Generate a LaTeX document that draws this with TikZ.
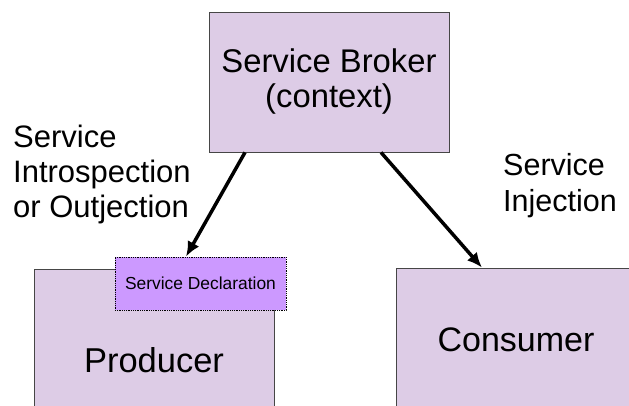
\documentclass[tikz,border=0pt]{standalone}
\usepackage{fontspec}
\setmainfont{Liberation Sans}
\usetikzlibrary{arrows.meta}
\definecolor{lavender}{RGB}{221,204,230}
\definecolor{declfill}{RGB}{204,153,255}
\definecolor{boxline}{RGB}{70,70,70}

\begin{document}
\begin{tikzpicture}[x=1pt, y=-1pt,
  box/.style = {rectangle, draw=boxline, line width=0.8pt, fill=lavender, inner sep=0pt, minimum width=240pt},
  decl/.style = {rectangle, draw=black, densely dotted, line width=0.8pt, fill=declfill, inner sep=0pt, minimum width=171pt, minimum height=53pt, font=\fontsize{17.4}{20}\selectfont},
  lbl/.style = {anchor=north west, inner sep=0pt, align=left},
  link/.style = {line width=3.5pt, -{Latex[length=15pt,width=13pt]}}]

\useasboundingbox (0,0) rectangle (629,405);
\clip (0,0) rectangle (629,405);

\node[box, align=center, minimum height=140pt, font=\fontsize{32.8}{35}\selectfont] (broker) at (329,82) {Service Broker\\(context)};
\node[box, minimum height=182pt, font=\fontsize{34.5}{40}\selectfont] (producer) at (154,360) {Producer};
% box runs off the right edge, text kept at x=516
\node[box, minimum width=280pt, minimum height=143pt, font=\fontsize{34}{40}\selectfont] (consumer) at (536,339.5) {\hspace*{-40pt}Consumer};
\node[decl] (decl) at (200.5,283.5) {Service Declaration};

\draw[link] ([xshift=-84pt]broker.south) -- ([xshift=-14.5pt]decl.north);
\draw[link] ([xshift=52pt]broker.south) -- ([xshift=-54pt]consumer.north);

\node[lbl, font=\fontsize{31}{35}\selectfont] (introlbl) at (13,125) {Service\\Introspection\\or Outjection};
\node[lbl, font=\fontsize{30.5}{36}\selectfont] (injectlbl) at (503,153) {Service\\Injection};

\end{tikzpicture}
\end{document}
